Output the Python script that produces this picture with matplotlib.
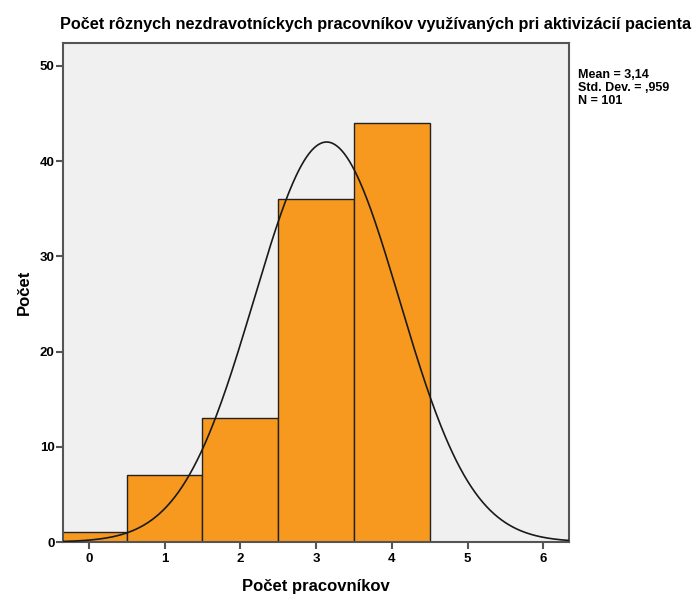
import matplotlib
matplotlib.use("Agg")
import matplotlib.pyplot as plt
import numpy as np

# histogram data (counts per number of workers)
values = [0, 1, 2, 3, 4]
counts = [1, 7, 13, 36, 44]
mean = 3.14
sd = 0.959
n = 101

plt.rcParams['font.family'] = ['Liberation Sans', 'DejaVu Sans']

fig = plt.figure(figsize=(6.97, 5.96), dpi=100)
ax = fig.add_axes([0.0904, 0.0906, 0.726, 0.837])
ax.set_facecolor('#F0F0F0')

ax.bar(values, counts, width=1.0, color='#F7991F', edgecolor='#222222', linewidth=1.0, zorder=2)

# fitted normal curve
xs = np.linspace(-0.34, 6.34, 400)
ys = n / (sd * np.sqrt(2 * np.pi)) * np.exp(-0.5 * ((xs - mean) / sd) ** 2)
ax.plot(xs, ys, color='#1a1a1a', linewidth=1.2, zorder=3)

ax.set_xlim(-0.34, 6.34)
ax.set_ylim(0, 52.4)
ax.set_xticks(range(0, 7))
ax.set_yticks(range(0, 51, 10))
for s in ax.spines.values():
    s.set_color('#555555')
    s.set_linewidth(1.5)
ax.tick_params(length=5, width=1.5, color='#555555', labelsize=9.5)
for lab in ax.get_xticklabels() + ax.get_yticklabels():
    lab.set_fontweight('bold')
ax.tick_params(axis='x', pad=3)
ax.tick_params(axis='y', pad=1)

ax.set_xlabel('Počet pracovníkov', fontsize=12, fontweight='bold', labelpad=10)
ax.set_ylabel('Počet', fontsize=12, fontweight='bold', labelpad=6)

fig.text(376 / 697, 1 - 25 / 596, 'Počet rôznych nezdravotníckych pracovníkov využívaných pri aktivizácií pacienta',
         ha='center', va='center', fontsize=11.7, fontweight='bold')
fig.text(578 / 697, 1 - 88 / 596, 'Mean = 3,14\nStd. Dev. = ,959\nN = 101',
         ha='left', va='center', fontsize=9, fontweight='bold', linespacing=1.15)

fig.savefig('out.png', dpi=100)
